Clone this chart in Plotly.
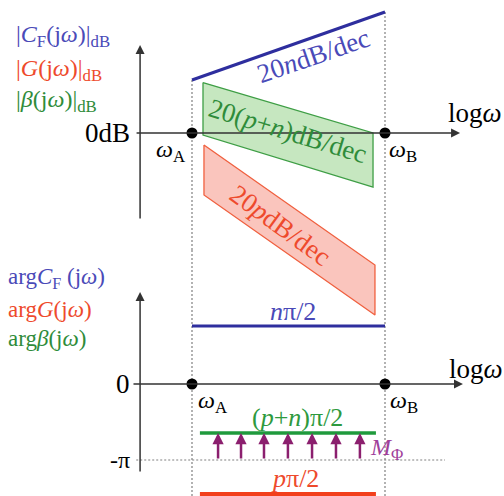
import plotly.graph_objects as go

W, H = 504, 496

# ---------------- data (schematic Bode diagram) ----------------
# log(omega) axis normalised so that omega_A = 0 and omega_B = 1
corner_x = [0.0, 1.0]                       # omega_A, omega_B
axis_origin_x = -0.269                      # where the vertical axes cross

# magnitude panel (dB)
cf_mag_x = [0.0, 1.0]
cf_mag_db = [26.5, 60.5]                    # |C_F|  : 20n dB/dec
beta_band_x = [0.057, 0.938, 0.938, 0.057]
beta_band_db = [25.2, 0.0, -27.0, -1.0]     # |beta| : 20(p+n) dB/dec band
g_band_x = [0.062, 0.948, 0.948, 0.062]
g_band_db = [-6.0, -66.0, -91.0, -31.0]     # |G|    : 20p dB/dec band

# phase panel (degrees)
cf_phase_x = [0.0, 1.0]
cf_phase_deg = [137.4, 137.4]               # n*pi/2
beta_phase_x = [0.041, 0.953]
beta_phase_deg = [-116.0, -116.0]           # (p+n)*pi/2
g_phase_x = [0.041, 0.953]
g_phase_deg = [-260.5, -260.5]              # p*pi/2
minus_pi_deg = -180.0
margin_arrow_x = [0.135, 0.254, 0.373, 0.497, 0.622, 0.746, 0.870]

# ---------------- layout geometry ----------------
X_RANGE = [-192 / 193, 312 / 193]
Y1_RANGE = [-98.5, 66.5]          # top panel (dB)
Y1_DOMAIN = [1 - 330 / H, 1.0]
Y2_RANGE = [-265.26, 317.37]      # bottom panel (deg)
Y2_DOMAIN = [0.0, 1 - 250 / H]
TOP_PANEL_CUT = -58.5             # dB level where the phase panel begins

BLUE = "#2E2E9E"
BLUE_T = "#4A4AB8"
GREEN = "#3E9E45"
GREEN_T = "#2F8C3A"
GREEN_FILL = "rgba(160,215,150,0.6)"
RED = "#F0603F"
RED_T = "#EE4A2C"
RED_FILL = "rgba(245,150,135,0.55)"
PURPLE = "#8B1F6E"
FONT = "Liberation Serif, Times New Roman, serif"

fig = go.Figure()

def add(x, y, yaxis="y", **kw):
    fig.add_trace(go.Scatter(x=x, y=y, xaxis="x", yaxis=yaxis, showlegend=False,
                             hoverinfo="skip", **kw))

# dotted guide lines at omega_A / omega_B
for xv, ytop in zip(corner_x, cf_mag_db):
    add([xv, xv], [ytop, TOP_PANEL_CUT], mode="lines",
        line=dict(color="#808080", width=1.2, dash="2px,2px"))
    add([xv, xv], Y2_RANGE, yaxis="y2", mode="lines",
        line=dict(color="#808080", width=1.2, dash="2px,2px"))
# -pi dotted line
add([axis_origin_x - 0.02, 1.311], [minus_pi_deg, minus_pi_deg], yaxis="y2", mode="lines",
    line=dict(color="#808080", width=1.2, dash="2px,2px"))

# magnitude bands
add(beta_band_x + beta_band_x[:1], beta_band_db + beta_band_db[:1], mode="lines",
    fill="toself", fillcolor=GREEN_FILL, line=dict(color=GREEN, width=1.3))
add(g_band_x + g_band_x[:1], g_band_db + g_band_db[:1], mode="lines",
    fill="toself", fillcolor=RED_FILL, line=dict(color=RED, width=1.3))
add(cf_mag_x, cf_mag_db, mode="lines", line=dict(color=BLUE, width=3))

# phase lines
add(cf_phase_x, cf_phase_deg, yaxis="y2", mode="lines", line=dict(color=BLUE, width=3))
add(beta_phase_x, beta_phase_deg, yaxis="y2", mode="lines", line=dict(color="#1F9A3C", width=3.5))
add(g_phase_x, g_phase_deg, yaxis="y2", mode="lines", line=dict(color="#F2401C", width=4))

# corner points
add(corner_x, [0, 0], mode="markers", marker=dict(color="black", size=11))
add(corner_x, [0, 0], yaxis="y2", mode="markers", marker=dict(color="black", size=11))

annotations = []

def arrow(x, y, ax, ay, yref, color="#333333", width=1.5, size=1.2, head=2):
    annotations.append(dict(x=x, y=y, ax=ax, ay=ay, xref="x", yref=yref, axref="x",
                            ayref=yref, text="", showarrow=True, arrowhead=head,
                            arrowsize=size, arrowwidth=width, arrowcolor=color))

# axes
arrow(axis_origin_x, 44.0, axis_origin_x, -43.5, "y")
arrow(1.389, 0, axis_origin_x - 0.026, 0, "y")
arrow(axis_origin_x, 217.9, axis_origin_x, -210.8, "y2")
arrow(1.404, 0, axis_origin_x - 0.042, 0, "y2")
# phase margin arrows
for xv in margin_arrow_x:
    arrow(xv, beta_phase_deg[0], xv, minus_pi_deg, "y2", color=PURPLE, width=2.5,
          size=0.9, head=2)

def text(s, xp, yp, size=22, color="black", xanchor="center", angle=0):
    annotations.append(dict(text=s, x=xp / W, y=1 - yp / H, xref="paper", yref="paper",
                            showarrow=False, xanchor=xanchor, yanchor="middle",
                            textangle=angle, font=dict(family=FONT, size=size, color=color)))

# legend-like labels
text("|<i>C</i><sub>F</sub>(j<i>ω</i>)|<sub>dB</sub>", 14, 36, 24, BLUE_T, "left")
text("|<i>G</i>(j<i>ω</i>)|<sub>dB</sub>", 14, 70, 24, RED_T, "left")
text("|<i>β</i>(j<i>ω</i>)|<sub>dB</sub>", 14, 101, 24, GREEN_T, "left")
text("arg<i>C</i><sub>F</sub> (j<i>ω</i>)", 6, 278, 23, BLUE_T, "left")
text("arg<i>G</i>(j<i>ω</i>)", 6, 309, 23, RED_T, "left")
text("arg<i>β</i>(j<i>ω</i>)", 6, 338, 23, GREEN_T, "left")

# axis labels
text("0dB", 132, 133, 27, "black", "right")
text("0", 132, 384, 27, "black", "right")
text("-π", 132, 460, 24, "black", "right")
text("log<i>ω</i>", 446, 113, 27, "black", "left")
text("log<i>ω</i>", 447, 369, 27, "black", "left")
text("<i>ω</i><sub>A</sub>", 154, 151, 24, "black", "left")
text("<i>ω</i><sub>B</sub>", 387, 151, 24, "black", "left")
text("<i>ω</i><sub>A</sub>", 196, 402, 24, "black", "left")
text("<i>ω</i><sub>B</sub>", 388, 402, 24, "black", "left")

# slope / level labels
text("20<i>n</i>dB/dec", 313, 56, 27, BLUE_T, "center", -19)
text("20(<i>p</i>+<i>n</i>)dB/dec", 288, 131, 27, GREEN_T, "center", 17)
text("20<i>p</i>dB/dec", 280, 225, 27, RED_T, "center", 36)
text("<i>n</i>π/2", 293, 311, 26, BLUE_T)
text("(<i>p</i>+<i>n</i>)π/2", 297, 417, 26, "#2E9A3E")
text("<i>M</i><sub>Φ</sub>", 368, 449, 24, "#A0409A", "left")
text("<i>p</i>π/2", 295, 478, 26, RED_T)

fig.update_layout(
    width=W, height=H, margin=dict(l=0, r=0, t=0, b=0),
    paper_bgcolor="white", plot_bgcolor="rgba(0,0,0,0)",
    xaxis=dict(range=X_RANGE, visible=False, domain=[0, 1], anchor="y"),
    yaxis=dict(range=Y1_RANGE, visible=False, domain=Y1_DOMAIN, anchor="x"),
    yaxis2=dict(range=Y2_RANGE, visible=False, domain=Y2_DOMAIN, anchor="x"),
    annotations=annotations,
)

fig.write_html("out.html")
